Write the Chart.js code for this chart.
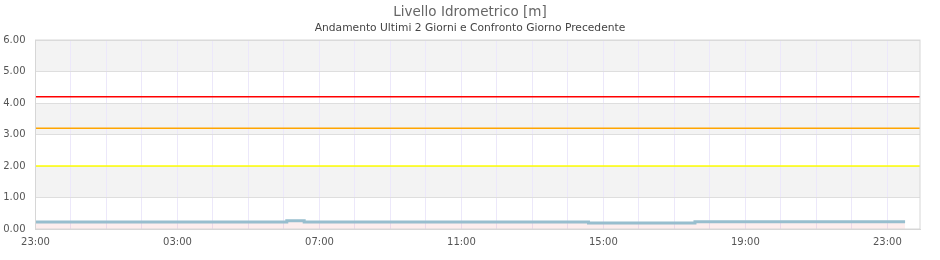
<!DOCTYPE html>
<html>
<head>
<meta charset="utf-8">
<script src="https://cdn.jsdelivr.net/npm/chart.js@4/dist/chart.umd.min.js"></script>
<style>
    html, body { margin: 0; padding: 0; background: #fff; }
    #wrap { width: 940px; height: 260px; }
</style>
</head>
<body>
<div id="wrap"><canvas id="livello"></canvas></div>
<script>
// hours since 23:00 of the previous day
var times = [0, 7.08, 7.57, 15.58, 18.58, 24.5];
var levels = [0.22, 0.26, 0.22, 0.19, 0.23, 0.23];

var tickHours = [0, 4, 8, 12, 16, 20, 24];
var tickLabels = ["23:00", "03:00", "07:00", "11:00", "15:00", "19:00", "23:00"];
var axisEnd = 24.92;

// soglie
var soglie = [4.2, 3.2, 2.0];
var soglieColori = ["#ff0000", "#ffa500", "#ffff00"];

// grey bands on the y axis
var bands = [[1, 2], [3, 4], [5, 6]];

var serie = [];
for (var i in times) {
    serie.push({ x: times[i], y: levels[i] });
}

var datasets = [];
for (var s in soglie) {
    datasets.push({
        data: [{ x: 0, y: soglie[s] }, { x: axisEnd, y: soglie[s] }],
        borderColor: soglieColori[s],
        borderWidth: 1.6,
        pointRadius: 0,
        fill: false,
    });
}
datasets.push({
    data: serie,
    borderColor: "#98bece",
    backgroundColor: "rgba(240, 90, 90, 0.1)",
    borderWidth: 3,
    pointRadius: 0,
    stepped: true,
    fill: "origin",
});

var bandPlugin = {
    id: "bande",
    beforeDraw: function (chart) {
        var ctx = chart.ctx;
        var area = chart.chartArea;
        var y = chart.scales.y;
        ctx.save();
        ctx.fillStyle = "#f3f3f3";
        bands.forEach(function (b) {
            var top = y.getPixelForValue(b[1]);
            var bottom = y.getPixelForValue(b[0]);
            ctx.fillRect(area.left, top, area.right - area.left, bottom - top);
        });
        ctx.restore();
    },
    afterDraw: function (chart) {
        var ctx = chart.ctx;
        var area = chart.chartArea;
        ctx.save();
        ctx.strokeStyle = "#d6d6d6";
        ctx.lineWidth = 1;
        ctx.strokeRect(area.left, area.top, area.right - area.left, area.bottom - area.top);
        ctx.restore();
    },
};

Chart.defaults.font.family = "'DejaVu Sans', sans-serif";
Chart.defaults.color = "#555";

var ctx = document.getElementById("livello").getContext("2d");
var chart = new Chart(ctx, {
    type: "line",
    data: { datasets: datasets },
    plugins: [bandPlugin],
    options: {
        responsive: true,
        maintainAspectRatio: false,
        animation: false,
        layout: { padding: { left: 2, right: 2, bottom: 5 } },
        plugins: {
            legend: { display: false },
            tooltip: { enabled: false },
            title: {
                display: true,
                text: "Livello Idrometrico [m]",
                color: "#666",
                font: { size: 13.5, weight: "normal" },
                padding: { top: 4, bottom: 2 },
            },
            subtitle: {
                display: true,
                text: "Andamento Ultimi 2 Giorni e Confronto Giorno Precedente",
                color: "#444",
                font: { size: 10.7 },
                padding: { bottom: 5 },
            },
        },
        scales: {
            x: {
                type: "linear",
                min: 0,
                max: axisEnd,
                afterBuildTicks: function (axis) {
                    var t = [];
                    for (var h = 0; h <= 24; h++) t.push({ value: h });
                    axis.ticks = t;
                },
                ticks: {
                    autoSkip: false,
                    maxRotation: 0,
                    padding: 7,
                    font: { size: 10 },
                    callback: function (value) {
                        var k = tickHours.indexOf(value);
                        return k >= 0 ? tickLabels[k] : "";
                    },
                },
                grid: { color: "#ece8fa", drawTicks: false },
                border: { color: "#d6d6d6" },
            },
            y: {
                min: 0,
                max: 6,
                afterFit: function (axis) {
                    axis.width = 33.5;
                },
                ticks: {
                    stepSize: 1,
                    padding: 10,
                    font: { size: 10 },
                    callback: function (value) {
                        return value.toFixed(2);
                    },
                },
                grid: { color: "#dedede", drawTicks: false },
                border: { color: "#d6d6d6" },
            },
            // empty right axis, only keeps the plot 20px from the right edge
            // while the titles stay centred on the whole canvas
            yDx: {
                position: "right",
                min: 0,
                max: 6,
                afterFit: function (axis) {
                    axis.width = 18;
                },
                ticks: { display: false },
                grid: { display: false },
                border: { display: false },
            },
        },
    },
});
</script>
</body>
</html>
